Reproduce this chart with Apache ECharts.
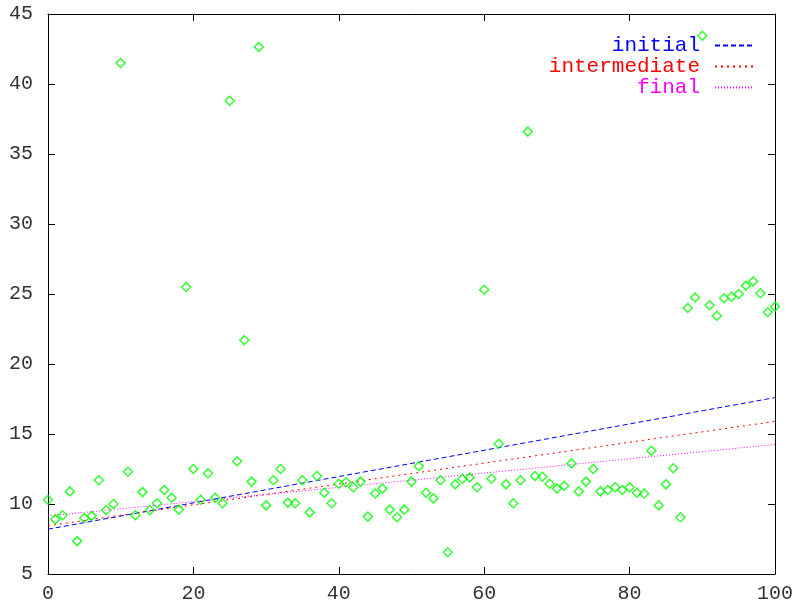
<!DOCTYPE html>
<html>
<head>
<meta charset="utf-8">
<script src="https://cdn.jsdelivr.net/npm/echarts@6/dist/echarts.min.js"></script>
<style>
html,body{margin:0;padding:0;background:#fff;}
#chart{width:796px;height:608px;}
</style>
</head>
<body>
<div id="chart"></div>
<script>
// Observed values: y for x = 0..100
const yValues = [
  10.3, 8.9, 9.2, 10.9, 7.35, 9.0, 9.15, 11.7, 9.55, 10.0,
  41.5, 12.3, 9.2, 10.85, 9.55, 10.05, 11.0, 10.45, 9.6, 25.5,
  12.5, 10.3, 12.2, 10.45, 10.05, 38.8, 13.05, 21.7, 11.6, 42.65,
  9.9, 11.7, 12.5, 10.1, 10.05, 11.7, 9.4, 12.0, 10.8, 10.05,
  11.45, 11.55, 11.2, 11.6, 9.1, 10.75, 11.1, 9.6, 9.05, 9.6,
  11.6, 12.7, 10.8, 10.4, 11.7, 6.55, 11.4, 11.8, 11.9, 11.2,
  25.3, 11.8, 14.3, 11.4, 10.05, 11.7, 36.6, 12.0, 11.95, 11.45,
  11.1, 11.3, 12.9, 10.9, 11.6, 12.5, 10.9, 11.0, 11.2, 11.0,
  11.2, 10.8, 10.75, 13.8, 9.9, 11.4, 12.55, 9.05, 24.0, 24.75,
  43.45, 24.2, 23.45, 24.7, 24.8, 25.0, 25.6, 25.9, 25.05, 23.7,
  24.1
];
// Fit lines: endpoints at x=0 and x=100
const fitNames = ['initial', 'intermediate', 'final'];
const fitX = [0, 100];
const initialY = [8.2, 17.6];
const intermediateY = [8.45, 15.9];
const finalY = [9.15, 14.25];
const xTicks = [0, 20, 40, 60, 80, 100];
const yTicks = [5, 10, 15, 20, 25, 30, 35, 40, 45];

const points = yValues.map((v, i) => [i, v]);
const mk = ys => fitX.map((x, i) => [x, ys[i]]);

const FONT = 'Liberation Mono';
const grid = {left: 48, top: 14, width: 727, height: 560};

function legendFor(name, color, top) {
  return {
    data: [name],
    orient: 'vertical',
    align: 'right',
    right: 42,
    top: top,
    itemWidth: 38,
    itemHeight: 10,
    padding: 0,
    selectedMode: false,
    itemStyle: {opacity: 0},
    textStyle: {color: color, fontFamily: FONT, fontSize: 21, padding: [0, 10, 0, 0]}
  };
}

const axisCommon = {
  axisLine: {show: true, onZero: false, lineStyle: {color: '#000', width: 1}},
  axisTick: {show: true, inside: true, length: 7, lineStyle: {color: '#000'}},
  splitLine: {show: false}
};

const chart = echarts.init(document.getElementById('chart'), null, {renderer: 'canvas'});
chart.setOption({
  animation: false,
  backgroundColor: '#fff',
  grid: grid,
  legend: [
    legendFor('initial', '#0000ff', 35),
    legendFor('intermediate', '#ff0000', 56),
    legendFor('final', '#ff00ff', 77)
  ],
  xAxis: [
    Object.assign({type: 'value', min: 0, max: 100, interval: 20, position: 'bottom',
      axisLabel: {color: '#333', fontFamily: FONT, fontSize: 20, margin: 10}}, axisCommon),
    Object.assign({type: 'value', min: 0, max: 100, interval: 20, position: 'top',
      axisLabel: {show: false}}, axisCommon)
  ],
  yAxis: [
    Object.assign({type: 'value', min: 5, max: 45, interval: 5, position: 'left',
      axisLabel: {color: '#333', fontFamily: FONT, fontSize: 20, margin: 15}}, axisCommon),
    Object.assign({type: 'value', min: 5, max: 45, interval: 5, position: 'right',
      axisLabel: {show: false}}, axisCommon)
  ],
  series: [
    {
      type: 'scatter', name: 'data', data: points,
      symbol: 'diamond', symbolSize: 9,
      itemStyle: {color: 'rgba(0,0,0,0)', borderColor: '#00ff00', borderWidth: 1.5},
      z: 3
    },
    {
      type: 'line', name: fitNames[0], data: mk(initialY), showSymbol: false, symbol: 'none',
      lineStyle: {color: '#0000ff', width: 1, type: [5, 3]}, itemStyle: {color: '#0000ff'}
    },
    {
      type: 'line', name: fitNames[1], data: mk(intermediateY), showSymbol: false, symbol: 'none',
      lineStyle: {color: '#ff0000', width: 1, type: [2, 4]}, itemStyle: {color: '#ff0000'}
    },
    {
      type: 'line', name: fitNames[2], data: mk(finalY), showSymbol: false, symbol: 'none',
      lineStyle: {color: '#ff00ff', width: 1, type: [1, 2]}, itemStyle: {color: '#ff00ff'}
    }
  ]
});
</script>
</body>
</html>
